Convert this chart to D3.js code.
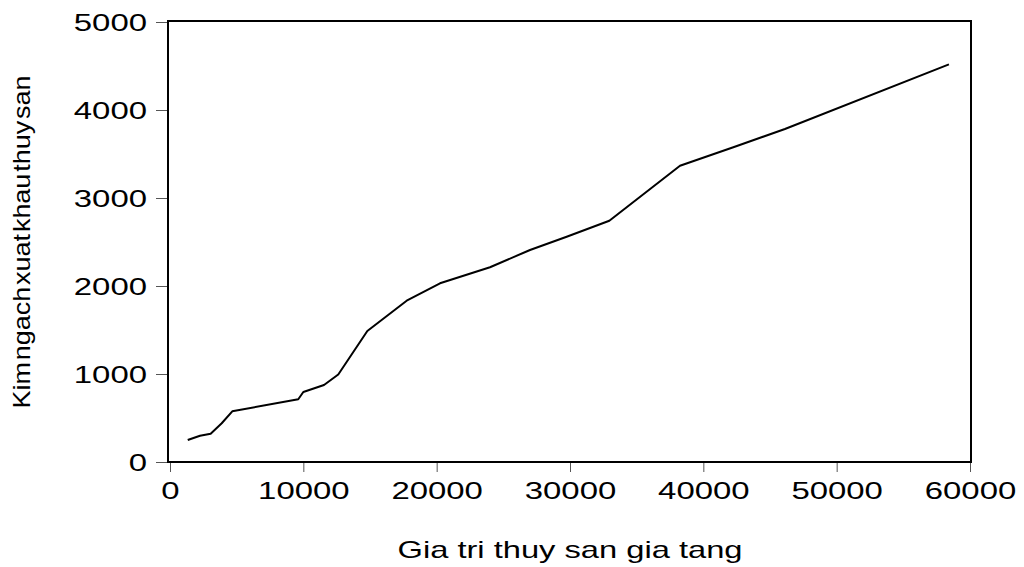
<!DOCTYPE html>
<html>
<head>
<meta charset="utf-8">
<script src="https://cdn.jsdelivr.net/npm/d3@7"></script>
<style>
  html, body { margin: 0; padding: 0; background: #fff; }
  svg { display: block; font-family: "Liberation Sans", Arial, sans-serif; }
</style>
</head>
<body>
<svg id="chart" width="1024" height="567"></svg>
<script>
// Gia tri thuy san gia tang (x) vs Kim ngach xuat khau thuy san (y)
const valueAdded = [1330, 2250, 3050, 3880, 4670, 9620, 10000, 11550, 12620, 14800, 17750, 20250, 24000, 27000, 29750, 32950, 38250, 42250, 46120, 58420];
const exportValue = [250, 299, 322, 440, 576, 713, 795, 875, 994, 1489, 1833, 2031, 2213, 2409, 2560, 2742, 3367, 3576, 3784, 4519];
const xTickValues = [0, 10000, 20000, 30000, 40000, 50000, 60000];
const yTickValues = [0, 1000, 2000, 3000, 4000, 5000];
const xTitle = "Gia tri thuy san gia tang";
const yTitle = "Kim ngach xuat khau thuy san";

const svg = d3.select("#chart");
const frame = { left: 168, right: 971, top: 21, bottom: 462 };

const x = d3.scaleLinear().domain([0, 60000]).range([170, 970]);
const y = d3.scaleLinear().domain([0, 5000]).range([462, 22]);

const digitW = 18.3;

// x axis ticks and labels
const xAxis = svg.append("g").attr("transform", `translate(0,${frame.bottom})`)
  .call(d3.axisBottom(x).tickValues(xTickValues).tickSize(10).tickFormat(d3.format("d")));
xAxis.select(".domain").remove();
xAxis.selectAll(".tick line").attr("stroke", "#555").attr("stroke-width", 1);
xAxis.selectAll(".tick text")
  .attr("fill", "#000").attr("font-size", 24)
  .attr("y", 37).attr("dy", 0)
  .attr("textLength", d => String(d).length * digitW)
  .attr("lengthAdjust", "spacingAndGlyphs");

// y axis ticks and labels
const yAxis = svg.append("g").attr("transform", `translate(${frame.left},0)`)
  .call(d3.axisLeft(y).tickValues(yTickValues).tickSize(12).tickFormat(d3.format("d")));
yAxis.select(".domain").remove();
yAxis.selectAll(".tick line").attr("stroke", "#555").attr("stroke-width", 1);
yAxis.selectAll(".tick text")
  .attr("fill", "#000").attr("font-size", 24)
  .attr("x", -21).attr("dy", "0.36em")
  .attr("textLength", d => String(d).length * digitW)
  .attr("lengthAdjust", "spacingAndGlyphs");

// plot frame
svg.append("rect")
  .attr("x", frame.left).attr("y", frame.top)
  .attr("width", frame.right - frame.left).attr("height", frame.bottom - frame.top)
  .attr("fill", "none").attr("stroke", "#000").attr("stroke-width", 2);

// data line
const line = d3.line().x((d, i) => x(valueAdded[i])).y(d => y(d));
svg.append("path")
  .datum(exportValue)
  .attr("d", line)
  .attr("fill", "none").attr("stroke", "#000").attr("stroke-width", 2)
  .attr("stroke-linejoin", "round");

// axis titles
svg.append("text")
  .attr("x", 570).attr("y", 558)
  .attr("text-anchor", "middle").attr("font-size", 24).attr("fill", "#000")
  .attr("textLength", 345).attr("lengthAdjust", "spacingAndGlyphs")
  .text(xTitle);

svg.append("text")
  .attr("transform", "translate(30,242) rotate(-90)")
  .attr("text-anchor", "middle").attr("font-size", 24).attr("fill", "#000")
  .attr("word-spacing", -5)
  .attr("textLength", 333).attr("lengthAdjust", "spacingAndGlyphs")
  .text(yTitle);
</script>
</body>
</html>
